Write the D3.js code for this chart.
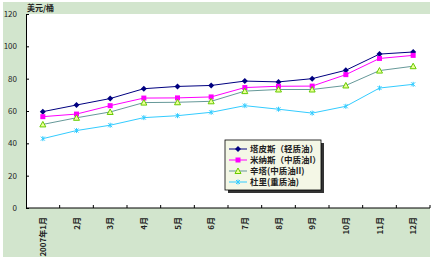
<!DOCTYPE html>
<html>
<head>
<meta charset="utf-8">
<script src="https://cdn.jsdelivr.net/npm/d3@7"></script>
<style>
  body { margin: 0; background: #fff; }
  svg text { font-family: "Noto Sans CJK SC", sans-serif; }
</style>
</head>
<body>
<svg id="chart" width="435" height="263"></svg>
<script>
// months on the x axis
var months = ["2007年1月", "2月", "3月", "4月", "5月", "6月", "7月", "8月", "9月", "10月", "11月", "12月"];
var yTicks = [0, 20, 40, 60, 80, 100, 120];

var tapis = [59.6, 63.7, 67.7, 73.8, 75.2, 75.8, 78.5, 78.0, 80.0, 85.2, 95.2, 96.5];
var minas = [56.5, 58.1, 63.3, 68.0, 68.1, 68.7, 74.5, 75.3, 75.4, 82.5, 92.5, 94.4];
var duri2 = [51.7, 55.8, 59.4, 65.2, 65.4, 66.0, 72.3, 73.3, 73.3, 75.8, 85.0, 87.7];
var duri = [42.9, 47.9, 51.2, 55.9, 57.1, 59.2, 63.3, 61.1, 58.7, 62.9, 74.2, 76.5];

var seriesNames = ["塔皮斯（轻质油）", "米纳斯（中质油I）", "辛塔(中质油II)", "杜里(重质油)"];

var svg = d3.select("#chart");

var margin = { top: 14, right: 5, bottom: 55, left: 26 },
    width = 430 - margin.left,
    height = 208 - margin.top;

// background panels
svg.append("rect").attr("x", 3).attr("y", 2).attr("width", 427).attr("height", 255)
  .attr("fill", "#d2e5cd");
svg.append("rect").attr("x", margin.left).attr("y", margin.top).attr("width", width).attr("height", height)
  .attr("fill", "#fff");

var x = d3.scaleBand().domain(months).range([0, width]);
var y = d3.scaleLinear().domain([0, 120]).range([height, 0]);

var g = svg.append("g").attr("transform", "translate(" + margin.left + "," + margin.top + ")");

// y axis
var yAxis = g.append("g")
  .call(d3.axisLeft(y).tickValues(yTicks).tickSize(-3).tickPadding(9));
yAxis.select(".domain").attr("stroke", "#000");
yAxis.selectAll("text").attr("font-size", 8).attr("font-family", "Arial, sans-serif").attr("fill", "#222");

// x axis, ticks at band edges
var xAxis = g.append("g").attr("transform", "translate(0," + height + ")");
xAxis.append("line").attr("x1", 0).attr("x2", width).attr("stroke", "#000");
xAxis.selectAll(".tk")
  .data(months)
  .enter().append("line")
  .attr("x1", function(d) { return x(d) + x.bandwidth(); })
  .attr("x2", function(d) { return x(d) + x.bandwidth(); })
  .attr("y1", 0).attr("y2", -3)
  .attr("stroke", "#000");
xAxis.selectAll(".lbl")
  .data(months)
  .enter().append("text")
  .attr("transform", function(d) {
    return "translate(" + (x(d) + x.bandwidth() / 2 + 3) + ",9) rotate(-90)";
  })
  .attr("text-anchor", "end")
  .attr("font-size", 8)
  .attr("font-weight", "bold")
  .attr("fill", "#222")
  .text(function(d) { return d; });

// unit label
svg.append("text").attr("x", 27).attr("y", 11)
  .attr("font-size", 8).attr("font-weight", "bold").attr("fill", "#222")
  .text("美元/桶");

var line = d3.line()
  .x(function(d, i) { return x(months[i]) + x.bandwidth() / 2; })
  .y(function(d) { return y(d); });

var styles = [
  { data: tapis, color: "#000080", marker: "diamond", mFill: "#000080", mStroke: "#000080" },
  { data: minas, color: "#ff00ff", marker: "square", mFill: "#ff00ff", mStroke: "#ff00ff" },
  { data: duri2, color: "#669999", marker: "triangle", mFill: "#eeff99", mStroke: "#66cc00" },
  { data: duri, color: "#33ccff", marker: "star", mFill: "#33ccff", mStroke: "#33ccff" }
];

function drawMarker(sel, s) {
  if (s.marker == "diamond") {
    sel.append("path").attr("d", "M0,-3L3,0L0,3L-3,0Z").attr("fill", s.mFill);
  } else if (s.marker == "square") {
    sel.append("rect").attr("x", -2.5).attr("y", -2.5).attr("width", 5).attr("height", 5).attr("fill", s.mFill);
  } else if (s.marker == "triangle") {
    sel.append("path").attr("d", "M0,-3L3,2.5L-3,2.5Z").attr("fill", s.mFill).attr("stroke", s.mStroke).attr("stroke-width", 1);
  } else {
    sel.append("path").attr("d", "M-2,-2L2,2M-2,2L2,-2M0,-2.5L0,2.5").attr("stroke", s.mStroke).attr("stroke-width", 1);
  }
}

styles.forEach(function(s) {
  g.append("path")
    .datum(s.data)
    .attr("fill", "none")
    .attr("stroke", s.color)
    .attr("stroke-width", 1)
    .attr("d", line);

  g.selectAll(null)
    .data(s.data)
    .enter().append("g")
    .attr("transform", function(d, i) {
      return "translate(" + (x(months[i]) + x.bandwidth() / 2) + "," + y(d) + ")";
    })
    .each(function() { drawMarker(d3.select(this), s); });
});

// legend
var lg = svg.append("g").attr("transform", "translate(225,140)");
lg.append("rect").attr("x", 3).attr("y", 3).attr("width", 96).attr("height", 50).attr("fill", "#333");
lg.append("rect").attr("width", 96).attr("height", 50).attr("fill", "#f4f7e6").attr("stroke", "#000").attr("stroke-width", 0.8);

var rows = lg.selectAll(".row")
  .data(styles)
  .enter().append("g")
  .attr("transform", function(d, i) { return "translate(0," + (9 + i * 11) + ")"; });
rows.append("line").attr("x1", 4).attr("x2", 22).attr("stroke", function(d) { return d.color; });
rows.append("g").attr("transform", "translate(13,0)").each(function(d) { drawMarker(d3.select(this), d); });
rows.append("text")
  .attr("x", 25).attr("y", 3)
  .attr("font-size", 8.5).attr("font-weight", "bold").attr("fill", "#222")
  .text(function(d, i) { return seriesNames[i]; });
</script>
</body>
</html>
